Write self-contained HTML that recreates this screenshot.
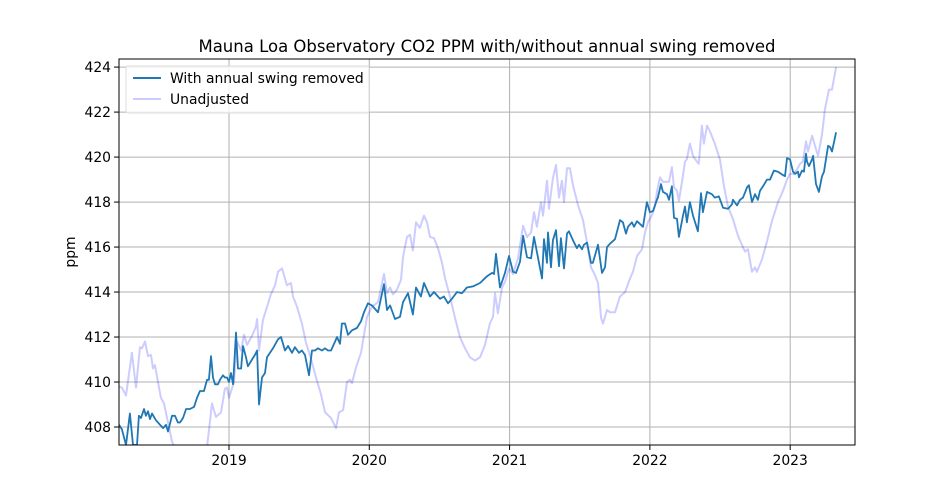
<!DOCTYPE html>
<html><head><meta charset="utf-8"><style>
html,body{margin:0;padding:0;background:#fff;}
svg{display:block;font-family:"DejaVu Sans","Liberation Sans",sans-serif;}
</style></head><body>
<svg id="chart" width="950" height="500" viewBox="0 0 950 500">
<rect width="950" height="500" fill="#fff"/>
<text x="487" y="52" font-size="16.5" text-anchor="middle" fill="#000">Mauna Loa Observatory CO2 PPM with/without annual swing removed</text>
<text transform="translate(75,252) rotate(-90)" font-size="13.9" text-anchor="middle" fill="#000">ppm</text>
<defs><clipPath id="clip"><rect x="119" y="59" width="736" height="386"/></clipPath></defs>
<g id="grid"></g>
<g id="series" clip-path="url(#clip)"></g>
<rect x="119" y="59" width="736" height="386" fill="none" stroke="#000" stroke-width="1"/>
<g id="ticks"></g>
<g>
<rect x="126" y="66" width="243" height="47" fill="#fff" fill-opacity="0.8" stroke="#ddd" rx="2"/>
<line x1="133" y1="78" x2="161" y2="78" stroke="#1f77b4" stroke-width="2"/>
<text x="170" y="83" font-size="13.9">With annual swing removed</text>
<line x1="133" y1="99" x2="161" y2="99" stroke="#ccccff" stroke-width="2"/>
<text x="170" y="104" font-size="13.9">Unadjusted</text>
</g>
</svg>
<script>
const adjYears=[2018.216,2018.237,2018.266,2018.294,2018.316,2018.344,2018.358,2018.373,2018.394,2018.408,2018.423,2018.437,2018.451,2018.480,2018.494,2018.508,2018.530,2018.551,2018.565,2018.594,2018.615,2018.636,2018.651,2018.672,2018.694,2018.722,2018.751,2018.772,2018.793,2018.822,2018.843,2018.857,2018.872,2018.886,2018.900,2018.922,2018.936,2018.957,2018.971,2018.986,2019.000,2019.014,2019.029,2019.050,2019.064,2019.086,2019.100,2019.121,2019.135,2019.164,2019.185,2019.200,2019.214,2019.235,2019.257,2019.271,2019.292,2019.314,2019.349,2019.371,2019.399,2019.421,2019.449,2019.470,2019.499,2019.520,2019.542,2019.570,2019.592,2019.613,2019.634,2019.663,2019.684,2019.706,2019.727,2019.756,2019.770,2019.791,2019.805,2019.827,2019.848,2019.877,2019.912,2019.941,2019.962,2019.991,2020.019,2020.062,2020.105,2020.126,2020.148,2020.183,2020.219,2020.240,2020.276,2020.311,2020.333,2020.368,2020.390,2020.433,2020.461,2020.490,2020.504,2020.532,2020.561,2020.589,2020.625,2020.661,2020.696,2020.739,2020.789,2020.839,2020.875,2020.889,2020.903,2020.932,2020.967,2020.996,2021.024,2021.046,2021.074,2021.096,2021.124,2021.153,2021.174,2021.202,2021.231,2021.245,2021.267,2021.274,2021.295,2021.309,2021.331,2021.352,2021.366,2021.388,2021.409,2021.423,2021.452,2021.480,2021.495,2021.516,2021.530,2021.552,2021.580,2021.594,2021.630,2021.659,2021.680,2021.694,2021.716,2021.751,2021.787,2021.808,2021.830,2021.844,2021.872,2021.887,2021.908,2021.951,2021.979,2022.000,2022.022,2022.050,2022.057,2022.079,2022.093,2022.122,2022.136,2022.157,2022.172,2022.193,2022.207,2022.236,2022.250,2022.264,2022.285,2022.307,2022.342,2022.364,2022.378,2022.407,2022.442,2022.463,2022.492,2022.521,2022.557,2022.585,2022.592,2022.621,2022.642,2022.664,2022.692,2022.706,2022.728,2022.749,2022.770,2022.785,2022.806,2022.835,2022.856,2022.884,2022.913,2022.949,2022.963,2022.977,2022.999,2023.020,2023.034,2023.056,2023.063,2023.084,2023.098,2023.113,2023.120,2023.134,2023.156,2023.163,2023.184,2023.205,2023.227,2023.241,2023.270,2023.284,2023.298,2023.327];
const adjValues=[408.1,407.9,407.2,408.6,407.2,407.2,408.5,408.4,408.8,408.5,408.7,408.35,408.6,408.3,408.2,408.1,407.95,408.1,407.8,408.5,408.5,408.2,408.2,408.4,408.8,408.8,408.9,409.3,409.6,409.6,410.1,410.1,411.15,410.2,409.9,409.9,410.1,410.3,410.2,410.2,410.0,410.4,409.9,412.2,410.6,410.6,411.6,411.1,410.7,411.0,411.2,411.4,409.0,410.2,410.4,411.1,411.3,411.5,411.9,412.0,411.4,411.6,411.3,411.55,411.3,411.4,411.2,410.3,411.4,411.4,411.5,411.4,411.5,411.4,411.4,411.8,412.0,411.7,412.6,412.6,412.1,412.3,412.4,412.7,413.1,413.5,413.4,413.1,414.35,413.2,413.4,412.8,412.9,413.55,413.95,413.0,414.2,413.8,414.4,413.8,414.0,413.8,413.7,413.8,413.5,413.7,414.0,413.95,414.2,414.25,414.4,414.7,414.85,414.8,415.7,414.2,414.85,415.6,414.9,414.85,415.35,416.5,415.55,415.5,416.45,415.55,414.6,416.35,415.3,416.65,415.1,416.3,416.75,415.15,416.4,415.05,416.6,416.7,416.3,415.95,416.1,415.9,416.1,416.2,415.3,415.3,416.1,414.85,415.1,416.0,416.15,416.35,417.2,417.1,416.6,416.9,417.1,416.9,417.15,416.9,418.0,417.55,417.6,418.1,418.2,418.8,418.45,418.35,418.1,418.7,417.3,417.25,416.45,417.4,417.8,417.1,418.0,417.4,416.7,418.4,417.55,418.45,418.35,418.2,418.25,417.75,417.7,417.9,418.1,417.85,418.1,418.2,418.65,418.75,418.0,418.35,418.1,418.5,418.7,419.0,419.0,419.4,419.35,419.2,419.15,419.95,419.9,419.35,419.25,419.35,419.1,419.4,419.35,420.15,419.8,419.6,419.9,420.05,418.8,418.45,419.15,419.35,420.5,420.45,420.25,421.1];
const rawYears=[2018.216,2018.237,2018.266,2018.308,2018.337,2018.366,2018.380,2018.401,2018.423,2018.444,2018.458,2018.472,2018.515,2018.537,2018.565,2018.594,2018.651,2018.722,2018.793,2018.843,2018.879,2018.907,2018.943,2018.971,2018.986,2019.000,2019.036,2019.057,2019.086,2019.107,2019.128,2019.164,2019.192,2019.200,2019.214,2019.242,2019.264,2019.299,2019.328,2019.349,2019.378,2019.399,2019.413,2019.442,2019.456,2019.485,2019.520,2019.549,2019.584,2019.620,2019.656,2019.685,2019.727,2019.763,2019.784,2019.813,2019.841,2019.862,2019.877,2019.905,2019.941,2019.984,2020.019,2020.062,2020.105,2020.126,2020.148,2020.169,2020.197,2020.226,2020.240,2020.269,2020.290,2020.311,2020.333,2020.361,2020.390,2020.411,2020.433,2020.461,2020.490,2020.518,2020.540,2020.575,2020.611,2020.646,2020.682,2020.718,2020.753,2020.789,2020.825,2020.860,2020.882,2020.896,2020.917,2020.946,2020.967,2020.996,2021.024,2021.060,2021.096,2021.124,2021.153,2021.174,2021.195,2021.224,2021.238,2021.267,2021.281,2021.309,2021.331,2021.352,2021.373,2021.388,2021.409,2021.430,2021.452,2021.488,2021.523,2021.552,2021.580,2021.609,2021.630,2021.652,2021.666,2021.694,2021.716,2021.751,2021.787,2021.823,2021.858,2021.880,2021.908,2021.944,2021.965,2021.986,2022.014,2022.036,2022.050,2022.072,2022.093,2022.115,2022.136,2022.157,2022.172,2022.193,2022.207,2022.229,2022.250,2022.264,2022.285,2022.307,2022.335,2022.349,2022.371,2022.385,2022.407,2022.428,2022.463,2022.499,2022.528,2022.557,2022.592,2022.628,2022.656,2022.678,2022.699,2022.728,2022.749,2022.763,2022.799,2022.835,2022.870,2022.913,2022.949,2022.977,2022.999,2023.020,2023.049,2023.070,2023.091,2023.113,2023.127,2023.156,2023.177,2023.198,2023.227,2023.248,2023.277,2023.298,2023.327];
const rawValues=[409.8,409.75,409.4,411.3,409.75,411.55,411.5,411.8,411.15,411.2,410.6,410.75,409.3,409.05,408.2,407.35,406.6,406.0,405.9,407.1,409.05,408.45,408.65,409.7,409.75,409.3,410.0,411.8,411.4,412.1,411.65,412.05,412.45,412.8,411.4,412.75,413.2,413.9,414.3,414.9,415.05,414.6,414.3,414.4,413.8,413.35,412.6,411.75,411.05,410.2,409.45,408.65,408.4,407.95,408.65,408.75,410.0,410.1,409.95,410.65,411.3,412.9,413.35,413.55,414.8,413.95,414.2,413.9,414.1,414.55,415.55,416.45,416.55,415.85,417.1,416.85,417.4,417.1,416.45,416.4,415.95,415.3,414.6,413.8,412.85,412.0,411.5,411.1,410.95,411.1,411.65,412.6,412.9,413.95,413.05,414.2,414.45,415.05,414.8,415.5,416.95,416.45,416.65,417.55,416.9,418.0,417.4,418.95,417.7,419.05,419.65,418.2,418.95,418.0,419.5,419.5,418.75,417.85,417.2,416.2,415.1,414.75,414.4,412.85,412.6,413.2,413.1,413.1,413.8,414.0,414.6,414.9,415.6,415.9,416.65,417.1,417.4,417.8,418.45,419.1,418.9,418.9,418.9,419.55,418.65,418.5,418.05,418.9,419.8,419.9,420.6,420.05,419.8,419.7,421.4,420.6,421.4,421.15,420.6,419.9,418.7,417.8,417.25,416.5,416.1,415.8,415.9,414.9,415.1,414.9,415.45,416.25,417.15,418.0,418.5,419.0,419.25,419.25,419.45,419.7,419.8,420.7,420.25,420.95,420.5,420.05,421.0,422.15,423.0,423.0,424.0];
const xTicks=[2019,2020,2021,2022,2023];
const yTicks=[408,410,412,414,416,418,420,422,424];

const NS='http://www.w3.org/2000/svg';
const L=119,R=855,T=59,B=445;
const X0=2018.216,X1=2023.462,Y0=407.2,Y1=424.36;
function xs(v){return L+(v-X0)/(X1-X0)*(R-L);}
function ys(v){return B-(v-Y0)/(Y1-Y0)*(B-T);}
function mk(tag,attrs,parent){const e=document.createElementNS(NS,tag);for(const k in attrs)e.setAttribute(k,attrs[k]);parent.appendChild(e);return e;}
const grid=document.getElementById('grid'),ticks=document.getElementById('ticks'),series=document.getElementById('series');
xTicks.forEach(t=>{
  const x=xs(t);
  const g=mk('line',{x1:x,y1:T,x2:x,y2:B,stroke:'#b0b0b0','stroke-width':1},grid);
  
  
  mk('line',{x1:x,y1:B,x2:x,y2:B+5,stroke:'#000','stroke-width':1},ticks);
  const tx=mk('text',{x:x,y:B+20,'font-size':13.9,'text-anchor':'middle'},ticks);
  tx.textContent=t;
  
  
});
yTicks.forEach(t=>{
  const y=ys(t);
  const g=mk('line',{x1:L,y1:y,x2:R,y2:y,stroke:'#b0b0b0','stroke-width':1},grid);
  
  
  mk('line',{x1:L-5,y1:y,x2:L,y2:y,stroke:'#000','stroke-width':1},ticks);
  const tx=mk('text',{x:L-8,y:y+5,'font-size':13.9,'text-anchor':'end'},ticks);
  tx.textContent=t;
  
  
});
function pts(xv,yv){return xv.map((v,i)=>xs(v).toFixed(1)+','+ys(yv[i]).toFixed(1)).join(' ');}
const raw=mk('polyline',{points:pts(rawYears,rawValues),fill:'none',stroke:'#0000ff','stroke-opacity':0.2,'stroke-width':2,'stroke-linejoin':'round'},series);


const adj=mk('polyline',{points:pts(adjYears,adjValues),fill:'none',stroke:'#1f77b4','stroke-width':1.8,'stroke-linejoin':'round'},series);


</script>
</body></html>
